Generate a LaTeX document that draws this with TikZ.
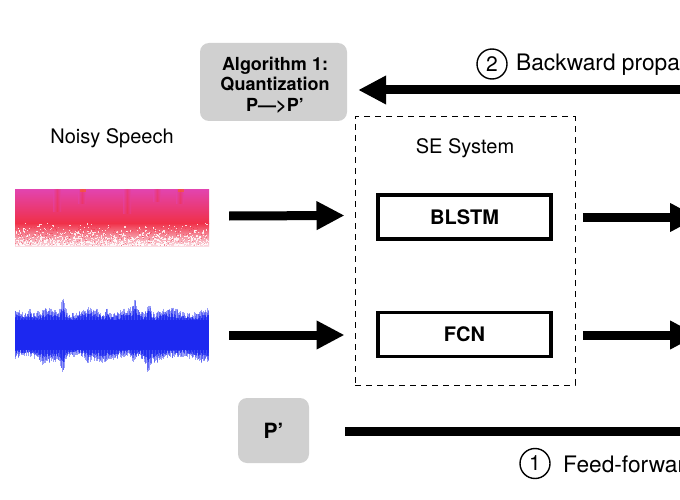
\documentclass[tikz,border=0pt]{standalone}
\usepackage{fontspec}
\setmainfont{TeX Gyre Heros}
\usetikzlibrary{arrows.meta,calc}
\definecolor{boxgray}{RGB}{208,208,208}
\definecolor{specmag}{RGB}{226,68,176}
\definecolor{specred}{RGB}{240,48,72}
\definecolor{specpale}{RGB}{250,220,226}
\definecolor{waveblue}{RGB}{28,40,240}
\tikzset{
  graybox/.style={fill=boxgray, rounded corners=9pt, draw=none},
  graytext/.style={align=center, inner sep=0pt, font=\bfseries\fontsize{18}{20.5}\selectfont},
  netbox/.style={draw, line width=3.5pt, minimum width=173pt, minimum height=44pt, font=\bfseries\fontsize{20}{24}\selectfont},
  sysbox/.style={draw, line width=1pt, dash pattern=on 6pt off 5pt, minimum width=220pt, minimum height=268pt},
  fatarrow/.style={line width=9pt, -{Triangle[length=28pt,width=27pt]}},
  fatline/.style={line width=9pt},
  numcirc/.style={draw, circle, line width=1.4pt, inner sep=0pt, minimum size=30pt, font=\fontsize{21}{21}\selectfont},
  lbl/.style={font=\fontsize{20}{24}\selectfont, inner sep=0pt},
  biglbl/.style={font=\fontsize{22.7}{26}\selectfont, inner sep=0pt, anchor=west},
}
\begin{document}
\begin{tikzpicture}[x=1pt,y=-1pt]
\useasboundingbox (0,0) rectangle (680,500);
\clip (0,0) rectangle (680,500);
\fill[white] (0,0) rectangle (680,500);

% quantization box
\node[graybox, minimum width=147pt, minimum height=78pt] (alg) at (273.5,82) {};
\node[graytext] (algtxt) at (275,85) {Algorithm 1:\\Quantization\\P—>P’};
% P' box
\node[graybox, minimum width=71pt, minimum height=65pt] (pp) at (273.5,430.5) {};
\node[graytext, font=\bfseries\fontsize{21}{24}\selectfont] (pptxt) at (pp.center) {P’};

% backward propagation
\coordinate (bpR) at (700,90);
\draw[fatarrow] (bpR) -- ($(alg.east)+(11,8)$);
\node[numcirc] (c2) at (492,64) {2};
\node[biglbl] (bptxt) at (516,65) {Backward propa};

% noisy speech
\node[lbl] (noisy) at (112,138) {Noisy Speech};

% spectrogram
\node[minimum width=194pt, minimum height=57pt, inner sep=0pt] (spec) at (112,217.5) {};
\shade[top color=specmag, bottom color=specred] (15,189) rectangle (209,223);
\shade[top color=specred, bottom color=specpale] (15,223) rectangle (209,246);
\foreach \sx/\sl in {57/22,82/14,127/24,157/12,180/14} {
  \shade[left color=specmag, right color=specmag, middle color=specred, opacity=0.45] (\sx-4,189) rectangle (\sx+4,189+\sl);
}
\fill[orange!60!specred, opacity=0.6] (80,189) rectangle (86,192);
\fill[orange!60!specred, opacity=0.6] (178,189) rectangle (184,192);
\pgfmathsetseed{11}
\foreach \i in {1,...,900} {
  \pgfmathsetmacro\px{15+193*rnd}
  \pgfmathsetmacro\py{245-24*rnd*rnd}
  \fill[white, opacity=0.8] (\px,\py) rectangle ++(1.2,1.2);
}
\foreach \i in {1,...,300} {
  \pgfmathsetmacro\px{15+193*rnd}
  \pgfmathsetmacro\py{226+19*rnd}
  \fill[specred, opacity=0.45] (\px,\py) rectangle ++(1,1);
}

% waveform
\node[minimum width=194pt, minimum height=76pt, inner sep=0pt] (wave) at (112,335) {};
\pgfmathsetseed{5}
\foreach \i in {0,...,323} {
  \pgfmathsetmacro\xx{15+\i*0.6}
  \pgfmathsetmacro\envu{13*exp(-((\xx-63)/2.5)^2)+10*exp(-((\xx-135)/2)^2)+11*exp(-((\xx-149)/2.5)^2)+5*exp(-((\xx-30)/2)^2)+5*exp(-((\xx-107)/2)^2)+3*sin(\xx*9)}
  \pgfmathsetmacro\envd{13*exp(-((\xx-63)/2.5)^2)+11*exp(-((\xx-148)/2.5)^2)+6*exp(-((\xx-43)/2)^2)+5*exp(-((\xx-88)/2)^2)+7*exp(-((\xx-133)/2)^2)+3*cos(\xx*7)}
  \pgfmathsetmacro\hu{19+\envu+6*rnd}
  \pgfmathsetmacro\hd{19+\envd+6*rnd}
  \draw[waveblue, line width=0.8pt, opacity=0.45] (\xx,335-\hu) -- (\xx,335+\hd);
  \pgfmathsetmacro\gu{16+0.6*\envu+4*rnd}
  \pgfmathsetmacro\gd{16+0.6*\envd+4*rnd}
  \draw[waveblue, line width=0.8pt, opacity=0.7] (\xx,335-\gu) -- (\xx,335+\gd);
}
\fill[waveblue] (15,320) rectangle (209,350);

% SE system
\node[sysbox] (se) at (465,251) {};
\node[lbl] (setxt) at (465,148) {SE System};
\node[netbox] (blstm) at (464.5,217) {BLSTM};
\node[netbox] (fcn) at (464.5,334.5) {FCN};

% input arrows
\draw[fatarrow] ($(spec.east)+(20,-1.5)$) -- ($(se.west)+(-10,-35.5)$);
\draw[fatarrow] ($(wave.east)+(20,0)$) -- ($(se.west)+(-10,84)$);

% output arrows
\coordinate (o1) at (698,217.5);
\coordinate (o2) at (698,335);
\draw[fatarrow] ($(blstm.east)+(30,0.5)$) -- (o1);
\draw[fatarrow] ($(fcn.east)+(30,0.5)$) -- (o2);

% feed-forward
\coordinate (ffR) at (700,431);
\draw[fatline] ($(pp.east)+(36,0.5)$) -- (ffR);
\node[numcirc] (c1) at (535,463.5) {1};
\node[biglbl] (fftxt) at (563,464.5) {Feed-forwar};
\end{tikzpicture}
\end{document}
